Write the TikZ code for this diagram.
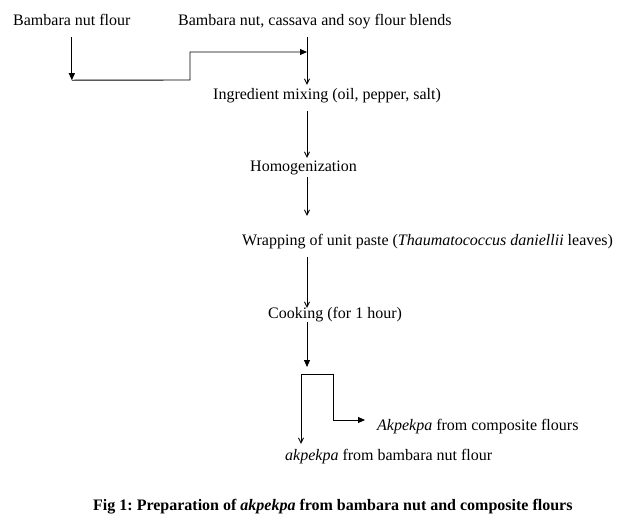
\documentclass[tikz,border=0pt]{standalone}
\usepackage{fontspec}
\setmainfont{Liberation Serif}
\usetikzlibrary{arrows.meta,calc}
\frenchspacing
\begin{document}
\begin{tikzpicture}[x=1pt,y=-1pt,
  txt/.style={anchor=base west,inner sep=0pt,text height=11pt,text depth=4pt,font=\fontsize{16}{19}\selectfont},
  line/.style={line width=0.9pt,line join=miter},
  sarr/.style={line,-{Straight Barb[length=5pt,width=5pt]}},
  farr/.style={line,-{Triangle[length=7pt,width=6pt]}}]
\useasboundingbox (0,0) rectangle (627,531);
\fill[white] (0,0) rectangle (627,531);
% texts
\node[txt] (flour) at (13,25) {Bambara nut flour};
\node[txt] (blends) at (178,25) {Bambara nut, cassava and soy flour blends};
\node[txt] (mix) at (213,99) {Ingredient mixing (oil, pepper, salt)};
\node[txt] (homog) at (250,171) {Homogenization};
\node[txt] (wrap) at (242,245) {Wrapping of unit paste (\textit{Thaumatococcus daniellii} leaves)};
\node[txt] (cook) at (268,318) {Cooking (for 1 hour)};
\node[txt] (akpa) at (377,430) {\textit{Akpekpa} from composite flours};
\node[txt] (akpb) at (285,460) {\textit{akpekpa} from bambara nut flour};
\node[txt] (cap) at (93,510) {\textbf{Fig 1: Preparation of \textit{akpekpa} from bambara nut and composite flours}};
% helper coordinates
\coordinate (ax) at (307,0);
\path (flour.south) ++(0,51) coordinate (c1);
\coordinate (c2) at (190,80);
\coordinate (c3) at (190,52);
\coordinate (j) at (307,52);
\coordinate (split) at (307,367);
\coordinate (tl) at (301,374);
\coordinate (tr) at (333,374);
\path (akpa.base west) ++(-12,-10) coordinate (ae);
% connectors
\draw[farr] ($(flour.south)+(0,8)$) -- (c1);
\draw[farr] (c1) -- (c2) -- (c3) -- (j);
\draw[sarr] ($(blends.south -| ax)+(0,8)$) -- ($(mix.north -| ax)+(0,-3)$);
\draw[sarr] ($(mix.south -| ax)+(0,8)$) -- ($(homog.north -| ax)+(0,-2)$);
\draw[sarr] ($(homog.south -| ax)+(0,2)$) -- ($(wrap.north -| ax)+(0,-18)$);
\draw[sarr] ($(wrap.south -| ax)+(0,8)$) -- ($(cook.north -| ax)+(0,1)$);
\draw[farr] (cook.south -| ax) -- (split);
\draw[line,{Straight Barb[length=5pt,width=5pt]}-{Triangle[length=7pt,width=6pt]}]
  ($(tl |- akpb.north)+(0,-5)$) -- (tl) -- (tr) -- (tr |- ae) -- (ae);
\end{tikzpicture}
\end{document}
